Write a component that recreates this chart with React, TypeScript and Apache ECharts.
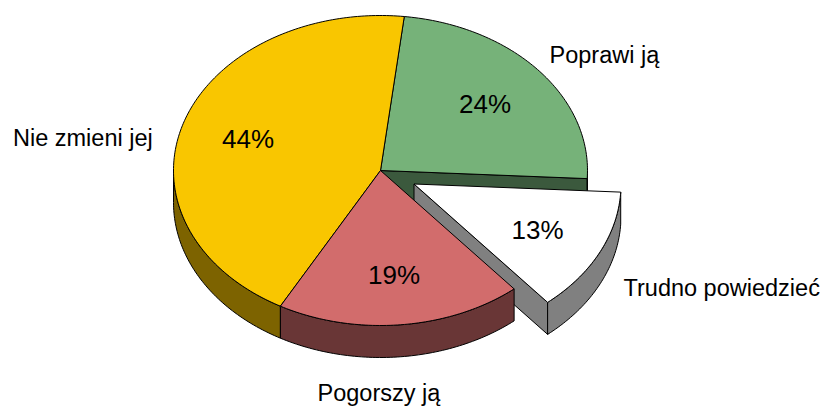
import React, { useEffect, useRef } from "react";
import * as echarts from "echarts";

// Clockwise order round the pie
const categories = ["Poprawi ją", "Trudno powiedzieć", "Pogorszy ją", "Nie zmieni jej"];
const values = [24, 13, 19.2, 43.8];
const topColors = ["#76B279", "#FFFFFF", "#D26C6C", "#F9C600"];
const wallColors = ["#3B593D", "#808080", "#693636", "#7D6300"];
const explodeX = [0, 33.5, 0, 0];
const explodeY = [0, 13.5, 0, 0];
const percentPos = [[485, 104], [537.5, 230], [394, 275], [248, 139]];
const namePos = [[549.5, 55], [623.5, 288], [317.5, 393], [13, 138]];
const drawOrder = [0, 3, 1, 2];

const CX = 380.5, CY = 170.5, RX = 207, RY = 155, DEPTH = 32, START = 6.6;
const total = values.reduce((a, b) => a + b, 0);

const angles: number[][] = [];
let acc = START;
values.forEach((v) => {
  const next = acc + (v / total) * 360;
  angles.push([acc, next]);
  acc = next;
});

const rim = (t: number, ox: number, oy: number) => {
  const r = (t * Math.PI) / 180;
  return [CX + ox + RX * Math.sin(r), CY + oy - RY * Math.cos(r)];
};
const arc = (a: number, b: number, ox: number, oy: number) => {
  const n = Math.max(2, Math.ceil(Math.abs(b - a)));
  const pts: number[][] = [];
  for (let i = 0; i <= n; i++) pts.push(rim(a + ((b - a) * i) / n, ox, oy));
  return pts;
};

const renderItem = (_params: any, api: any) => {
  const idx = api.value(0);
  const [a, b] = angles[idx];
  const ox = explodeX[idx], oy = explodeY[idx];
  const children: any[] = [];
  const line = { stroke: "#000", lineWidth: 1, lineJoin: "round" };

  // cut face at the clockwise end, when it faces the viewer
  if (b < 180) {
    const p = rim(b, ox, oy);
    children.push({
      type: "polygon",
      shape: { points: [[CX + ox, CY + oy], p, [p[0], p[1] + DEPTH], [CX + ox, CY + oy + DEPTH]] },
      style: { fill: wallColors[idx], ...line },
    });
  }
  // outer wall, front half only
  const wa = Math.max(a, 90), wb = Math.min(b, 270);
  if (wb > wa) {
    const top = arc(wa, wb, ox, oy);
    const bottom = top.map((p) => [p[0], p[1] + DEPTH]).reverse();
    children.push({
      type: "polygon",
      shape: { points: [...top, ...bottom] },
      style: { fill: wallColors[idx], ...line },
    });
  }
  // top face
  children.push({
    type: "polygon",
    shape: { points: [[CX + ox, CY + oy], ...arc(a, b, ox, oy)] },
    style: { fill: topColors[idx], ...line },
  });
  return { type: "group", children };
};

const labelItem = (_params: any, api: any) => {
  const idx = api.value(0);
  return {
    type: "group",
    children: [
      {
        type: "text",
        style: {
          text: `${Math.round(values[idx])}%`,
          x: percentPos[idx][0],
          y: percentPos[idx][1],
          fill: "#000",
          align: "center",
          verticalAlign: "middle",
          font: '26px "Liberation Sans", Arial, sans-serif',
        },
      },
      {
        type: "text",
        style: {
          text: categories[idx],
          x: namePos[idx][0],
          y: namePos[idx][1],
          fill: "#000",
          align: "left",
          verticalAlign: "middle",
          font: '23.5px "Liberation Sans", Arial, sans-serif',
        },
      },
    ],
  };
};

export default function App() {
  const ref = useRef<HTMLDivElement>(null);
  useEffect(() => {
    document.body.style.margin = "0";
    const chart = echarts.init(ref.current!, undefined, { renderer: "svg" });
    chart.setOption({
      animation: false,
      backgroundColor: "#fff",
      tooltip: { show: false },
      series: [
        {
          type: "custom",
          coordinateSystem: "none",
          silent: true,
          renderItem,
          data: drawOrder.map((i) => ({ name: categories[i], value: [i, values[i]] })),
          z: 1,
        },
        {
          type: "custom",
          coordinateSystem: "none",
          silent: true,
          renderItem: labelItem,
          data: drawOrder.map((i) => ({ name: categories[i], value: [i, values[i]] })),
          z: 2,
        },
      ],
    });
    return () => chart.dispose();
  }, []);
  return <div ref={ref} style={{ width: 822, height: 406 }} />;
}
